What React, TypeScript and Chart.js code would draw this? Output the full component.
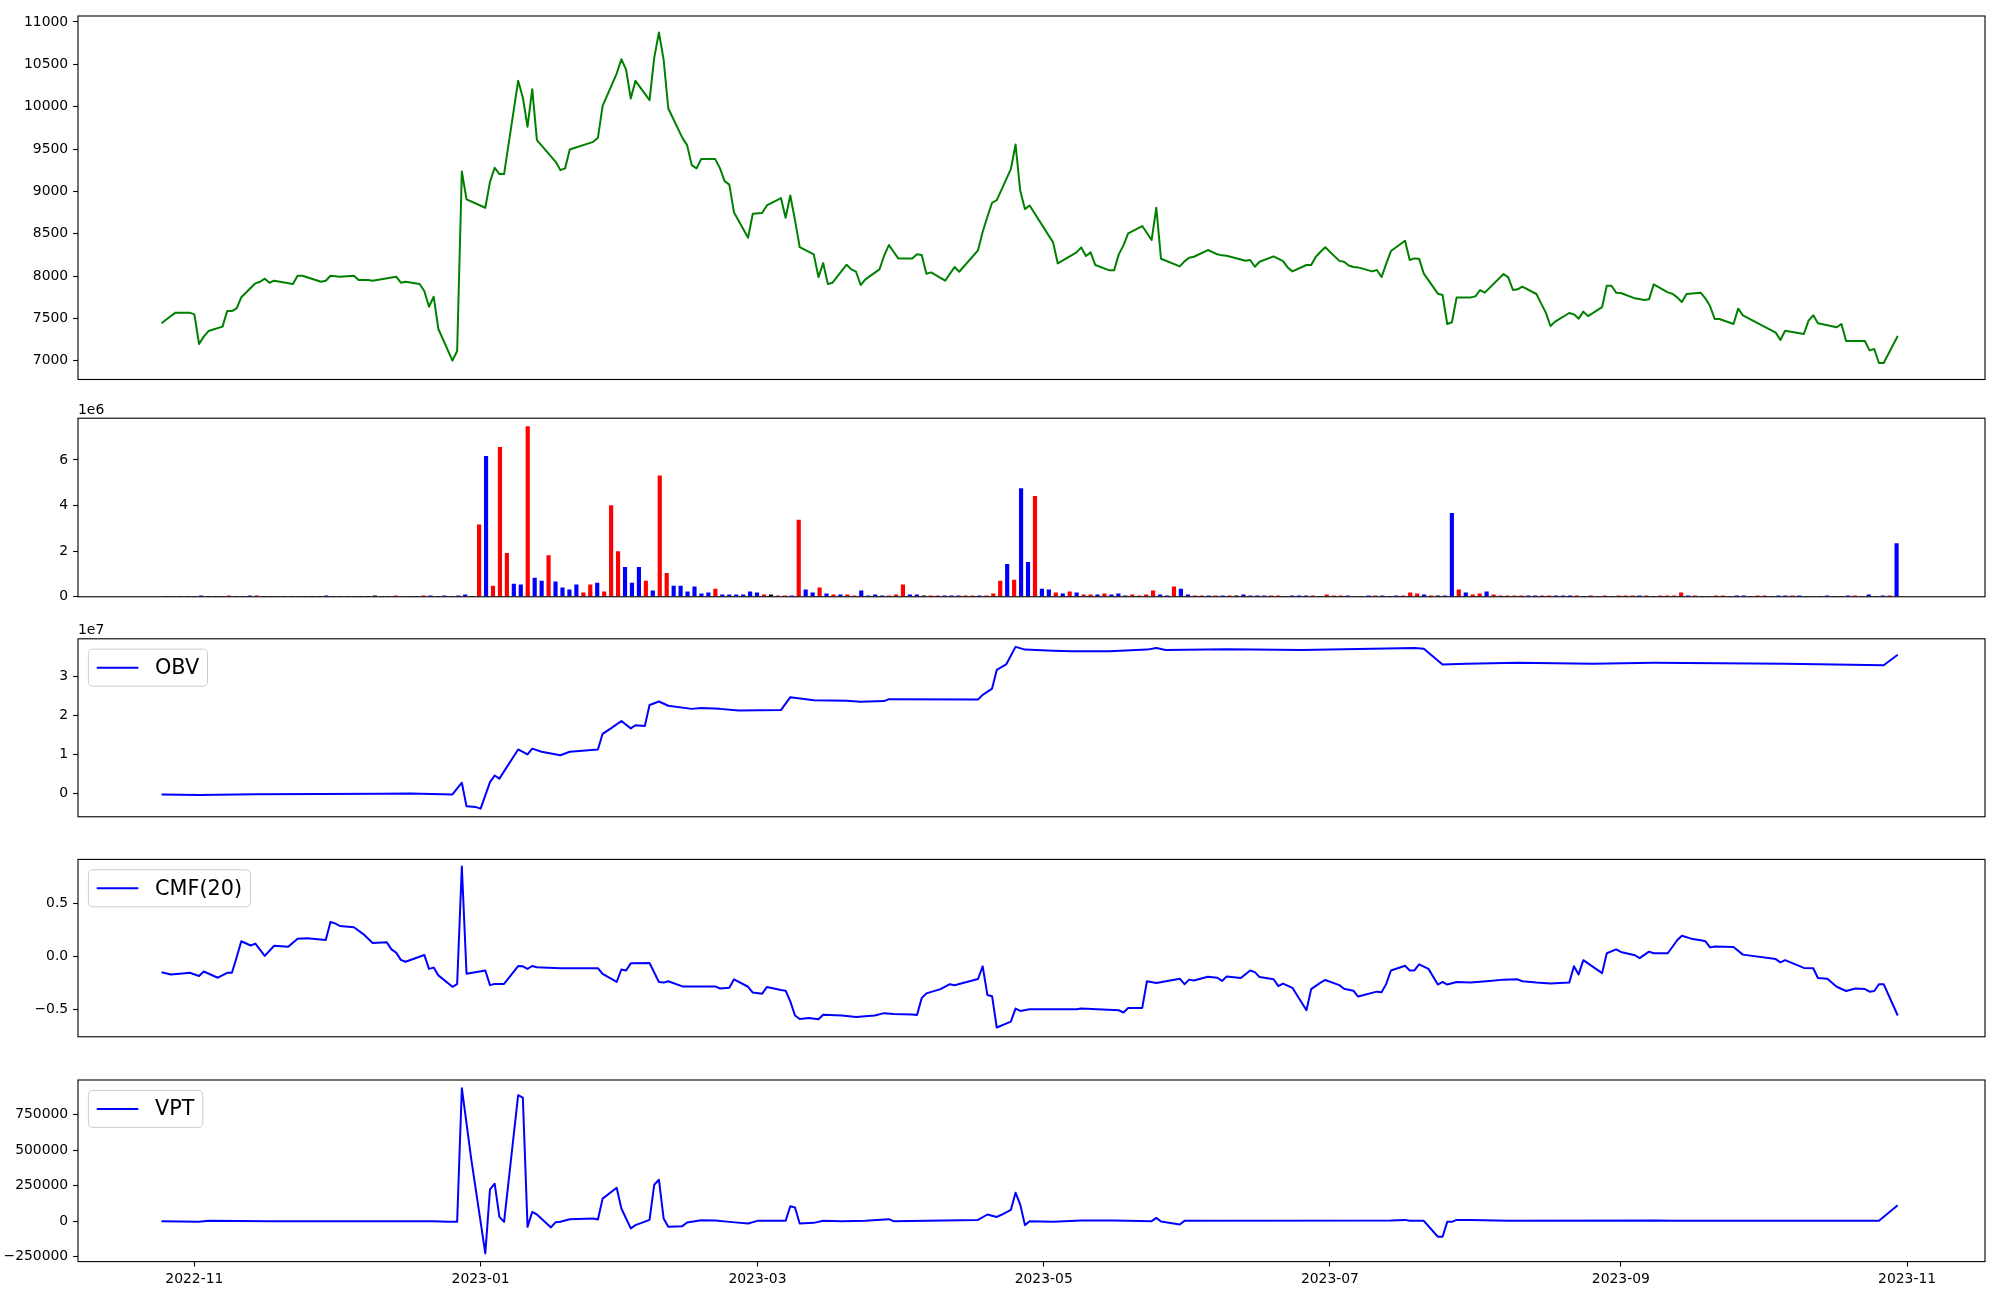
import React, { useEffect, useRef } from "react";
import { Chart, registerables } from "chart.js";

Chart.register(...registerables);

// ---------------- DATA ----------------
const priceDates = [
  "2022-10-25","2022-10-27","2022-10-28","2022-10-31",
  "2022-11-01","2022-11-02","2022-11-03","2022-11-04","2022-11-07","2022-11-08","2022-11-09","2022-11-10","2022-11-11","2022-11-14","2022-11-15","2022-11-16","2022-11-17","2022-11-18","2022-11-22","2022-11-23","2022-11-24","2022-11-28","2022-11-29","2022-11-30",
  "2022-12-02","2022-12-05","2022-12-06","2022-12-08","2022-12-09","2022-12-14","2022-12-15","2022-12-16","2022-12-19","2022-12-20","2022-12-21","2022-12-22","2022-12-23","2022-12-26","2022-12-27","2022-12-28","2022-12-29",
  "2023-01-02","2023-01-03","2023-01-04","2023-01-05","2023-01-06","2023-01-09","2023-01-10","2023-01-11","2023-01-12","2023-01-13","2023-01-17","2023-01-18","2023-01-19","2023-01-20","2023-01-25","2023-01-26","2023-01-27","2023-01-30","2023-01-31",
  "2023-02-01","2023-02-02","2023-02-03","2023-02-06","2023-02-07","2023-02-08","2023-02-09","2023-02-10","2023-02-13","2023-02-14","2023-02-15","2023-02-16","2023-02-17","2023-02-20","2023-02-21","2023-02-22","2023-02-23","2023-02-24","2023-02-27","2023-02-28",
  "2023-03-02","2023-03-03","2023-03-06","2023-03-07","2023-03-08","2023-03-09","2023-03-10","2023-03-13","2023-03-14","2023-03-15","2023-03-16","2023-03-17","2023-03-20","2023-03-21","2023-03-22","2023-03-23","2023-03-24","2023-03-27","2023-03-28","2023-03-29","2023-03-31",
  "2023-04-03","2023-04-04","2023-04-05","2023-04-06","2023-04-07","2023-04-10","2023-04-12","2023-04-13","2023-04-17","2023-04-18","2023-04-19","2023-04-20","2023-04-21","2023-04-24","2023-04-25","2023-04-26","2023-04-27","2023-04-28",
  "2023-05-03","2023-05-04","2023-05-08","2023-05-09","2023-05-10","2023-05-11","2023-05-12","2023-05-15","2023-05-16","2023-05-17","2023-05-18","2023-05-19","2023-05-22","2023-05-24","2023-05-25","2023-05-26","2023-05-30","2023-05-31",
  "2023-06-01","2023-06-02","2023-06-05","2023-06-07","2023-06-08","2023-06-09","2023-06-13","2023-06-14","2023-06-15","2023-06-16","2023-06-19","2023-06-21","2023-06-22","2023-06-23","2023-06-26","2023-06-27","2023-06-28","2023-06-29","2023-06-30",
  "2023-07-03","2023-07-04","2023-07-05","2023-07-06","2023-07-07","2023-07-10","2023-07-11","2023-07-12","2023-07-13","2023-07-14","2023-07-17","2023-07-18","2023-07-19","2023-07-20","2023-07-21","2023-07-24","2023-07-25","2023-07-26","2023-07-27","2023-07-28","2023-07-31",
  "2023-08-01","2023-08-02","2023-08-03","2023-08-07","2023-08-08","2023-08-09","2023-08-10","2023-08-11","2023-08-14","2023-08-15","2023-08-16","2023-08-17","2023-08-18","2023-08-21","2023-08-22","2023-08-23","2023-08-24","2023-08-25","2023-08-28","2023-08-29","2023-08-30","2023-08-31",
  "2023-09-01","2023-09-04","2023-09-06","2023-09-07","2023-09-08","2023-09-11","2023-09-12","2023-09-13","2023-09-14","2023-09-15","2023-09-18","2023-09-19","2023-09-20","2023-09-21","2023-09-22","2023-09-25","2023-09-26","2023-09-27",
  "2023-10-04","2023-10-05","2023-10-06","2023-10-10","2023-10-11","2023-10-12","2023-10-13","2023-10-17","2023-10-18","2023-10-19","2023-10-23","2023-10-24","2023-10-25","2023-10-26","2023-10-27","2023-10-30",
];
const priceValues = [
  7443,7529,7569,7569,
  7549,7199,7286,7352,7404,7588,7588,7620,7750,7915,7934,7970,7922,7946,7907,8005,8005,7934,7946,8005,
  7993,8005,7954,7954,7946,7993,7922,7934,7907,7824,7639,7757,7376,7003,7117,9235,8905,
  8807,9113,9279,9204,9204,10305,10108,9762,10206,9605,9349,9251,9271,9495,9585,9632,10010,10391,10560,
  10438,10096,10305,10077,10576,10875,10556,9978,9632,9546,9310,9271,9381,9381,9275,9121,9080,8752,8453,8736,
  8744,8834,8921,8689,8952,8661,8343,8257,7989,8154,7907,7922,8135,8080,8052,7895,7962,8080,8241,8367,8209,
  8209,8257,8249,8029,8044,7946,8107,8052,8304,8524,8701,8866,8897,9263,9554,9007,8791,8834,
  8398,8150,8280,8339,8237,8280,8131,8068,8068,8257,8363,8504,8591,8426,8807,8205,8115,8174,
  8217,8229,8308,8257,8245,8241,8182,8190,8111,8170,8233,8178,8103,8056,8131,8131,8229,8288,8340,
  8180,8170,8125,8107,8103,8056,8072,7989,8147,8296,8418,8190,8209,8206,8029,7793,7777,7435,7455,7749,7749,
  7761,7836,7805,8025,7985,7836,7844,7875,7789,7679,7569,7411,7463,7565,7549,7498,7581,7529,7635,7887,7887,7805,
  7801,7738,7718,7726,7903,7808,7793,7749,7694,7789,7805,7738,7647,7494,7494,7435,7616,7537,
  7333,7246,7356,7317,7474,7537,7443,7396,7435,7235,7235,7124,7140,6975,6975,7293,
];

// volume bars are drawn against the bar index (0..249)
const volumeValues = [
  0,0,0,0,0,40000,0,0,0,40000,
  0,0,40000,40000,0,0,0,0,0,0,
  0,0,0,40000,0,0,0,0,0,0,
  40000,0,0,40000,0,0,0,40000,40000,0,
  40000,0,40000,90000,0,3150000,6160000,470000,6550000,1900000,
  560000,520000,7460000,820000,690000,1810000,650000,390000,300000,520000,
  170000,520000,600000,220000,4000000,1980000,1290000,600000,1290000,690000,
  260000,5300000,1030000,470000,470000,220000,430000,130000,170000,340000,
  86000,86000,86000,86000,220000,170000,86000,86000,40000,40000,
  40000,3360000,300000,170000,390000,130000,86000,86000,86000,40000,
  260000,40000,86000,40000,40000,86000,520000,86000,86000,40000,
  40000,40000,40000,40000,40000,40000,40000,40000,40000,130000,
  690000,1420000,730000,4740000,1510000,4400000,340000,300000,170000,130000,
  220000,170000,86000,86000,86000,130000,86000,130000,40000,86000,
  40000,86000,260000,86000,40000,430000,340000,86000,40000,40000,
  40000,40000,40000,40000,40000,86000,40000,40000,40000,40000,
  40000,0,40000,40000,40000,40000,0,86000,40000,40000,
  40000,0,0,40000,40000,40000,0,40000,40000,170000,
  130000,86000,40000,40000,40000,3660000,300000,170000,86000,130000,
  220000,86000,40000,40000,40000,40000,40000,40000,40000,40000,
  40000,40000,40000,40000,0,40000,0,40000,0,40000,
  40000,40000,40000,40000,0,40000,40000,40000,170000,40000,
  40000,0,0,40000,40000,0,40000,40000,0,40000,
  40000,0,40000,40000,40000,40000,0,0,0,40000,
  0,0,40000,40000,0,86000,0,40000,40000,2330000,
];
// 1 = red bar, -1 = blue bar, 0 = black bar
const volumeSide = [
  0,0,0,0,0,-1,0,0,0,1,
  0,0,-1,1,0,0,0,0,0,0,
  0,0,0,-1,0,0,0,0,0,0,
  0,0,0,1,0,0,0,1,-1,0,
  -1,0,-1,-1,0,1,-1,1,1,1,
  -1,-1,1,-1,-1,1,-1,-1,-1,-1,
  1,1,-1,1,1,1,-1,-1,-1,1,
  -1,1,1,-1,-1,-1,-1,-1,-1,1,
  -1,-1,-1,-1,-1,-1,1,0,1,1,
  -1,1,-1,-1,1,-1,1,-1,1,1,
  -1,-1,-1,-1,1,1,1,-1,-1,0,
  1,1,-1,-1,-1,1,1,-1,1,1,
  1,-1,1,-1,-1,1,-1,-1,1,-1,
  1,-1,1,1,-1,1,-1,-1,0,1,
  1,1,1,-1,-1,1,-1,-1,1,1,
  -1,1,-1,1,0,-1,-1,-1,-1,1,
  1,0,-1,-1,-1,1,0,1,1,1,
  -1,0,0,-1,1,-1,0,-1,1,1,
  1,-1,1,0,-1,-1,1,-1,1,1,
  -1,1,1,1,1,1,-1,-1,1,1,
  -1,-1,-1,1,0,1,0,1,0,1,
  1,1,-1,1,0,1,1,1,1,-1,
  1,0,0,1,1,0,-1,-1,0,1,
  1,0,-1,-1,1,-1,0,0,0,-1,
  0,0,-1,1,0,-1,0,-1,1,-1,
];

const obvDates = [
  "2022-10-25","2022-11-02","2022-11-14","2022-12-11","2022-12-17","2022-12-26","2022-12-28","2022-12-29","2022-12-31",
  "2023-01-01","2023-01-03","2023-01-04","2023-01-05","2023-01-09","2023-01-11","2023-01-12","2023-01-14","2023-01-18","2023-01-20","2023-01-26","2023-01-27","2023-01-29","2023-01-31",
  "2023-02-02","2023-02-03","2023-02-05","2023-02-06","2023-02-08","2023-02-10","2023-02-15","2023-02-17","2023-02-21","2023-02-25",
  "2023-03-06","2023-03-08","2023-03-13","2023-03-20","2023-03-23","2023-03-28","2023-03-29",
  "2023-04-17","2023-04-18","2023-04-20","2023-04-21","2023-04-23","2023-04-25","2023-04-27",
  "2023-05-03","2023-05-07","2023-05-15","2023-05-23","2023-05-25","2023-05-27",
  "2023-06-09","2023-06-25","2023-07-19","2023-07-21","2023-07-25","2023-07-30",
  "2023-08-10","2023-08-26","2023-09-08","2023-10-06","2023-10-27","2023-10-30",
];
const obvValues = [
  -250000,-400000,-200000,-100000,0,-250000,2750000,-3300000,-3500000,
  -3900000,2900000,4600000,3800000,11300000,10000000,11500000,10700000,9800000,10700000,11300000,15300000,16900000,18600000,
  16700000,17500000,17300000,22700000,23600000,22500000,21700000,21900000,21700000,21300000,
  21400000,24700000,23900000,23800000,23500000,23700000,24200000,
  24100000,25300000,26900000,31700000,33100000,37600000,36900000,
  36600000,36500000,36500000,36900000,37300000,36800000,
  37000000,36800000,37300000,37100000,33100000,33300000,
  33500000,33300000,33500000,33300000,32900000,35600000,
];

const cmfDates = [
  "2022-10-25","2022-10-27","2022-10-30","2022-10-31",
  "2022-11-02","2022-11-03","2022-11-06","2022-11-08","2022-11-09","2022-11-10","2022-11-11","2022-11-13","2022-11-14","2022-11-16","2022-11-18","2022-11-21","2022-11-23","2022-11-25","2022-11-29","2022-11-30",
  "2022-12-01","2022-12-02","2022-12-05","2022-12-07","2022-12-09","2022-12-12","2022-12-13","2022-12-14","2022-12-15","2022-12-16","2022-12-20","2022-12-21","2022-12-22","2022-12-23","2022-12-26","2022-12-27","2022-12-28","2022-12-29",
  "2023-01-02","2023-01-03","2023-01-04","2023-01-06","2023-01-09","2023-01-10","2023-01-11","2023-01-12","2023-01-13","2023-01-18","2023-01-26","2023-01-27","2023-01-30","2023-01-31",
  "2023-02-01","2023-02-02","2023-02-06","2023-02-08","2023-02-09","2023-02-10","2023-02-13","2023-02-16","2023-02-20","2023-02-21","2023-02-23","2023-02-24","2023-02-27","2023-02-28",
  "2023-03-02","2023-03-03","2023-03-06","2023-03-07","2023-03-08","2023-03-09","2023-03-10","2023-03-12","2023-03-14","2023-03-15","2023-03-19","2023-03-22","2023-03-26","2023-03-28","2023-03-30",
  "2023-04-03","2023-04-04","2023-04-05","2023-04-06","2023-04-09","2023-04-11","2023-04-12","2023-04-17","2023-04-18","2023-04-19","2023-04-20","2023-04-21","2023-04-24","2023-04-25","2023-04-26","2023-04-28",
  "2023-05-08","2023-05-09","2023-05-17","2023-05-18","2023-05-19","2023-05-22","2023-05-23","2023-05-25","2023-05-30","2023-05-31",
  "2023-06-01","2023-06-02","2023-06-05","2023-06-07","2023-06-08","2023-06-09","2023-06-12","2023-06-14","2023-06-15","2023-06-16","2023-06-19","2023-06-20","2023-06-21","2023-06-23","2023-06-26","2023-06-27","2023-06-29","2023-06-30",
  "2023-07-03","2023-07-04","2023-07-06","2023-07-07","2023-07-11","2023-07-12","2023-07-13","2023-07-14","2023-07-17","2023-07-18","2023-07-19","2023-07-20","2023-07-22","2023-07-24","2023-07-25","2023-07-26","2023-07-28","2023-07-31",
  "2023-08-04","2023-08-07","2023-08-10","2023-08-11","2023-08-14","2023-08-17","2023-08-21","2023-08-22","2023-08-23","2023-08-24","2023-08-28","2023-08-29","2023-08-31",
  "2023-09-01","2023-09-04","2023-09-05","2023-09-07","2023-09-08","2023-09-11","2023-09-13","2023-09-14","2023-09-16","2023-09-18","2023-09-19","2023-09-20","2023-09-21","2023-09-25","2023-09-27",
  "2023-10-04","2023-10-05","2023-10-06","2023-10-10","2023-10-12","2023-10-13","2023-10-15","2023-10-17","2023-10-19","2023-10-21","2023-10-23","2023-10-24","2023-10-25","2023-10-26","2023-10-27","2023-10-30",
];
const cmfValues = [
  -0.147,-0.168,-0.156,-0.153,
  -0.183,-0.141,-0.199,-0.153,-0.153,-0.009,0.144,0.104,0.122,0.006,0.101,0.092,0.168,0.171,0.156,0.324,
  0.312,0.287,0.275,0.211,0.128,0.135,0.067,0.037,-0.031,-0.049,0.015,-0.116,-0.104,-0.177,-0.284,-0.260,0.847,-0.162,
  -0.131,-0.269,-0.257,-0.257,-0.089,-0.092,-0.116,-0.089,-0.101,-0.110,-0.110,-0.162,-0.239,-0.122,
  -0.131,-0.064,-0.061,-0.239,-0.245,-0.232,-0.281,-0.281,-0.281,-0.300,-0.294,-0.214,-0.284,-0.339,
  -0.349,-0.287,-0.315,-0.321,-0.422,-0.554,-0.587,-0.578,-0.590,-0.547,-0.554,-0.569,-0.554,-0.532,-0.541,
  -0.544,-0.550,-0.391,-0.346,-0.306,-0.260,-0.269,-0.211,-0.092,-0.361,-0.373,-0.667,-0.612,-0.489,-0.511,-0.495,
  -0.495,-0.489,-0.505,-0.526,-0.483,-0.483,-0.232,-0.248,-0.208,-0.260,
  -0.217,-0.226,-0.190,-0.199,-0.229,-0.187,-0.202,-0.131,-0.147,-0.193,-0.214,-0.278,-0.254,-0.294,-0.505,-0.306,-0.245,-0.220,
  -0.269,-0.303,-0.321,-0.376,-0.330,-0.336,-0.257,-0.131,-0.086,-0.131,-0.131,-0.073,-0.116,-0.263,-0.239,-0.263,-0.239,-0.245,
  -0.229,-0.217,-0.214,-0.232,-0.245,-0.254,-0.245,-0.092,-0.168,-0.034,-0.156,0.031,0.067,
  0.043,0.012,-0.015,0.046,0.031,0.031,0.153,0.196,0.168,0.153,0.144,0.086,0.095,0.089,0.018,
  -0.024,-0.055,-0.034,-0.107,-0.110,-0.202,-0.208,-0.284,-0.324,-0.300,-0.306,-0.330,-0.324,-0.260,-0.260,-0.554,
];

const vptDates = [
  "2022-10-25",
  "2022-11-02","2022-11-04","2022-11-17",
  "2022-12-22","2022-12-25","2022-12-27","2022-12-28","2022-12-30",
  "2023-01-02","2023-01-03","2023-01-04","2023-01-05","2023-01-06","2023-01-09","2023-01-10","2023-01-11","2023-01-12","2023-01-13","2023-01-16","2023-01-17","2023-01-18","2023-01-20","2023-01-25","2023-01-26","2023-01-27","2023-01-30","2023-01-31",
  "2023-02-02","2023-02-03","2023-02-06","2023-02-07","2023-02-08","2023-02-09","2023-02-10","2023-02-13","2023-02-14","2023-02-17","2023-02-20","2023-02-23","2023-02-27",
  "2023-03-01","2023-03-07","2023-03-08","2023-03-09","2023-03-10","2023-03-13","2023-03-15","2023-03-19","2023-03-24","2023-03-29","2023-03-30",
  "2023-04-06","2023-04-17","2023-04-19","2023-04-21","2023-04-22","2023-04-24","2023-04-25","2023-04-26","2023-04-27","2023-04-28",
  "2023-05-03","2023-05-09","2023-05-16","2023-05-24","2023-05-25","2023-05-26","2023-05-30","2023-05-31",
  "2023-07-14","2023-07-17","2023-07-18","2023-07-21","2023-07-24","2023-07-25","2023-07-26","2023-07-27","2023-07-28","2023-07-31",
  "2023-08-08","2023-09-09","2023-09-12","2023-10-26","2023-10-30",
];
const vptValues = [
  0,
  -4700,2300,0,
  0,-4700,-4700,937000,439000,
  -227000,224000,264000,30000,-4700,888000,871000,-40000,65000,47000,-44000,-7000,-4700,14000,19000,12000,159000,236000,89000,
  -51000,-28000,9000,257000,292000,19000,-40000,-35000,-9000,7000,5000,-5000,-16000,
  2300,2300,105000,96000,-16000,-12000,2300,0,2300,14000,0,
  2300,9000,47000,30000,45000,79000,201000,117000,-28000,0,
  -4700,4700,4700,0,23000,-2300,-23000,2300,
  4700,9000,2300,2300,-110000,-110000,-4700,-4700,9000,9000,
  2300,4700,2300,2300,112000,
];

const priceTicks = [7000, 7500, 8000, 8500, 9000, 9500, 10000, 10500, 11000];
const volumeTicks = [0, 2000000, 4000000, 6000000];
const obvTicks = [0, 10000000, 20000000, 30000000];
const cmfTicks = [-0.5, 0, 0.5];
const vptTicks = [-250000, 0, 250000, 500000, 750000];
const dateTickLabels = ["2022-11", "2023-01", "2023-03", "2023-05", "2023-07", "2023-09", "2023-11"];

// ---------------- HELPERS ----------------
const FONT = "DejaVu Sans";
const dayNum = (s: string) => {
  const p = s.split("-").map(Number);
  return Date.UTC(p[0], (p[1] || 1) - 1, p[2] || 1) / 86400000;
};
const X_MIN = dayNum("2022-11-01") - 24.8;
const X_MAX = dayNum("2023-11-01") + 16.6;
const MINUS = "\u2212";
const signed = (s: string, v: number) => (v < 0 ? MINUS + s.replace("-", "") : s);

const framePlugin = {
  id: "frame",
  afterDraw(chart: any) {
    const { ctx, chartArea: a } = chart;
    ctx.save();
    ctx.strokeStyle = "#000";
    ctx.lineWidth = 1.1;
    ctx.strokeRect(a.left, a.top, a.right - a.left, a.bottom - a.top);
    ctx.restore();
  },
};

const offsetTextPlugin = (text: string) => ({
  id: "offsetText",
  afterDraw(chart: any) {
    const { ctx, chartArea: a } = chart;
    ctx.save();
    ctx.fillStyle = "#000";
    ctx.font = `13.9px "${FONT}"`;
    ctx.textAlign = "left";
    ctx.textBaseline = "alphabetic";
    ctx.fillText(text, a.left, a.top - 4.5);
    ctx.restore();
  },
});

const legendPlugin = (label: string, color: string) => ({
  id: "mplLegend",
  afterDraw(chart: any) {
    const { ctx, chartArea: a } = chart;
    const fs = 20.8;
    ctx.save();
    ctx.font = `${fs}px "${FONT}"`;
    const tw = ctx.measureText(label).width;
    const pad = 0.4 * fs;
    const hl = 2.0 * fs;
    const htp = 0.8 * fs;
    const w = pad + hl + htp + tw + pad;
    const h = 37;
    const x = a.left + 0.5 * fs;
    const y = a.top + 0.5 * fs;
    ctx.beginPath();
    if ((ctx as any).roundRect) (ctx as any).roundRect(x, y, w, h, 0.2 * fs);
    else ctx.rect(x, y, w, h);
    ctx.fillStyle = "rgba(255,255,255,0.8)";
    ctx.fill();
    ctx.strokeStyle = "#cccccc";
    ctx.lineWidth = 1;
    ctx.stroke();
    const cy = y + h / 2;
    ctx.beginPath();
    ctx.moveTo(x + pad, cy);
    ctx.lineTo(x + pad + hl, cy);
    ctx.strokeStyle = color;
    ctx.lineWidth = 2;
    ctx.stroke();
    ctx.fillStyle = "#000";
    ctx.textAlign = "left";
    ctx.textBaseline = "middle";
    ctx.fillText(label, x + pad + hl + htp, cy + 1);
    ctx.restore();
  },
});

const yAxis = (min: number, max: number, ticks: number[], fmt: (v: number) => string) => ({
  type: "linear",
  position: "left",
  min,
  max,
  afterFit: (s: any) => {
    s.width = 78;
  },
  afterBuildTicks: (s: any) => {
    s.ticks = ticks.map((v) => ({ value: v }));
  },
  grid: {
    display: true,
    drawOnChartArea: false,
    drawTicks: true,
    tickLength: 4.9,
    tickColor: "#000",
    tickWidth: 1.1,
  },
  border: { display: false },
  ticks: {
    color: "#000",
    font: { family: FONT, size: 13.9 },
    padding: 4.9,
    autoSkip: false,
    callback: (v: any) => fmt(Number(v)),
  },
});

const hiddenX = (min: number, max: number) => ({
  type: "linear",
  min,
  max,
  offset: false,
  display: false,
});

const dateX = () => ({
  type: "linear",
  min: X_MIN,
  max: X_MAX,
  offset: false,
  afterFit: (s: any) => {
    s.height = 38.4;
  },
  afterBuildTicks: (s: any) => {
    s.ticks = dateTickLabels.map((l) => ({ value: dayNum(l + "-01") }));
  },
  grid: {
    display: true,
    drawOnChartArea: false,
    drawTicks: true,
    tickLength: 4.9,
    tickColor: "#000",
    tickWidth: 1.1,
  },
  border: { display: false },
  ticks: {
    color: "#000",
    font: { family: FONT, size: 13.9 },
    padding: 4.9,
    autoSkip: false,
    maxRotation: 0,
    minRotation: 0,
    callback: (_v: any, i: number) => dateTickLabels[i],
  },
});

const lineDataset = (dates: string[], values: number[], color: string) => ({
  type: "line",
  data: dates.map((d, i) => ({ x: dayNum(d), y: values[i] })),
  borderColor: color,
  borderWidth: 2,
  pointRadius: 0,
  fill: false,
  tension: 0,
  borderJoinStyle: "round",
});

const baseOptions = (padding: any, scales: any) => ({
  responsive: false,
  maintainAspectRatio: false,
  animation: false,
  devicePixelRatio: 1,
  events: [],
  layout: { padding },
  plugins: { legend: { display: false }, tooltip: { enabled: false } },
  scales,
});

const panels = [
  {
    top: 0,
    h: 400,
    config: () => ({
      type: "line",
      data: { datasets: [lineDataset(priceDates, priceValues, "#008000")] },
      options: baseOptions(
        { left: 0, right: 15, top: 16, bottom: 20.5 },
        {
          x: hiddenX(X_MIN, X_MAX),
          y: yAxis(6780, 11070, priceTicks, (v) => String(v)),
        }
      ),
      plugins: [framePlugin],
    }),
  },
  {
    top: 400,
    h: 210,
    config: () => ({
      type: "bar",
      data: {
        datasets: [
          {
            type: "bar",
            data: volumeValues.map((v, i) => ({ x: i, y: v })),
            backgroundColor: volumeSide.map((s) => (s > 0 ? "#ff0000" : s < 0 ? "#0000ff" : "#000000")),
            borderWidth: 0,
            barThickness: 3.5,
          },
        ],
      },
      options: baseOptions(
        { left: 0, right: 15, top: 18.2, bottom: 10.2 },
        {
          x: hiddenX(-12.725, 261.725),
          y: yAxis(0, 7830000, volumeTicks, (v) => String(Math.round(v / 1e6))),
        }
      ),
      plugins: [framePlugin, offsetTextPlugin("1e6")],
    }),
  },
  {
    top: 610,
    h: 220,
    config: () => ({
      type: "line",
      data: { datasets: [lineDataset(obvDates, obvValues, "#0000ff")] },
      options: baseOptions(
        { left: 0, right: 15, top: 28.8, bottom: 9.6 },
        {
          x: hiddenX(X_MIN, X_MAX),
          y: yAxis(-5975000, 39675000, obvTicks, (v) => String(Math.round(v / 1e7))),
        }
      ),
      plugins: [framePlugin, offsetTextPlugin("1e7"), legendPlugin("OBV", "#0000ff")],
    }),
  },
  {
    top: 830,
    h: 220,
    config: () => ({
      type: "line",
      data: { datasets: [lineDataset(cmfDates, cmfValues, "#0000ff")] },
      options: baseOptions(
        { left: 0, right: 15, top: 29.4, bottom: 9 },
        {
          x: hiddenX(X_MIN, X_MAX),
          y: yAxis(-0.754, 0.913, cmfTicks, (v) => signed(v.toFixed(1), v)),
        }
      ),
      plugins: [framePlugin, legendPlugin("CMF(20)", "#0000ff")],
    }),
  },
  {
    top: 1050,
    h: 250,
    config: () => ({
      type: "line",
      data: { datasets: [lineDataset(vptDates, vptValues, "#0000ff")] },
      options: baseOptions(
        { left: 0, right: 15, top: 30, bottom: 0 },
        {
          x: dateX(),
          y: yAxis(-285000, 995000, vptTicks, (v) => signed(String(v), v)),
        }
      ),
      plugins: [framePlugin, legendPlugin("VPT", "#0000ff")],
    }),
  },
];

export default function App() {
  const wrapRef = useRef<HTMLDivElement>(null);
  useEffect(() => {
    const wrap = wrapRef.current;
    if (!wrap) return;
    const canvases = Array.from(wrap.querySelectorAll("canvas"));
    const charts = panels.map((p, i) => new Chart(canvases[i] as HTMLCanvasElement, p.config() as any));
    return () => charts.forEach((c) => c.destroy());
  }, []);
  return (
    <div
      ref={wrapRef}
      style={{ position: "absolute", left: 0, top: 0, width: 2000, height: 1300, background: "#fff" }}
    >
      {panels.map((p, i) => (
        <canvas
          key={i}
          width={2000}
          height={p.h}
          style={{ position: "absolute", left: 0, top: p.top, width: 2000, height: p.h }}
        />
      ))}
    </div>
  );
}
